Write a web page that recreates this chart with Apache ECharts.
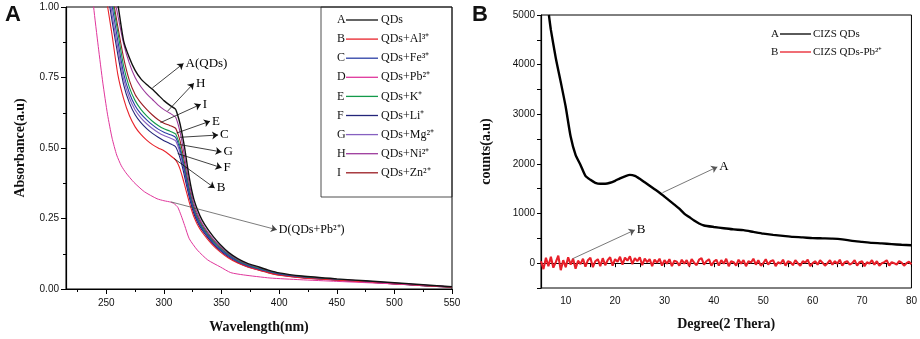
<!DOCTYPE html>
<html>
<head>
<meta charset="utf-8">
<script src="https://cdn.jsdelivr.net/npm/echarts@6/dist/echarts.min.js"></script>
<style>
  html, body { margin: 0; padding: 0; background: #fff; }
  #main { width: 920px; height: 339px; }
</style>
</head>
<body>
<div id="main"></div>
<script>
// ---- panel A : UV-vis absorbance ----
var wlA = [245, 250, 255, 260, 265, 270, 275, 280, 285, 290, 295, 300, 305, 310, 312, 314, 316, 318, 320, 322, 324, 326, 329, 333, 338, 343, 349, 356, 364, 372, 381, 390, 400, 420, 450, 475, 500, 525, 550];
var absA = [1.5, 1.30, 1.12, 1.01, 0.88, 0.82, 0.775, 0.745, 0.725, 0.708, 0.688, 0.668, 0.652, 0.638, 0.615, 0.585, 0.545, 0.50, 0.445, 0.395, 0.352, 0.318, 0.282, 0.245, 0.212, 0.185, 0.157, 0.130, 0.108, 0.092, 0.080, 0.068, 0.057, 0.046, 0.036, 0.029, 0.022, 0.015, 0.008];
var absH = [1.4, 1.25, 1.08, 0.97, 0.87, 0.80, 0.75, 0.717, 0.692, 0.672, 0.652, 0.636, 0.624, 0.61, 0.588, 0.556, 0.515, 0.468, 0.418, 0.372, 0.335, 0.302, 0.268, 0.233, 0.202, 0.176, 0.15, 0.125, 0.104, 0.089, 0.077, 0.066, 0.055, 0.044, 0.034, 0.028, 0.021, 0.014, 0.007];
var absI = [1.35, 1.2, 1.05, 0.93, 0.82, 0.74, 0.69, 0.66, 0.637, 0.617, 0.600, 0.588, 0.580, 0.570, 0.552, 0.525, 0.488, 0.445, 0.400, 0.358, 0.322, 0.292, 0.260, 0.228, 0.198, 0.172, 0.147, 0.123, 0.102, 0.087, 0.075, 0.064, 0.054, 0.043, 0.034, 0.027, 0.02, 0.013, 0.007];
var absE = [1.3, 1.18, 1.03, 0.91, 0.79, 0.715, 0.668, 0.637, 0.614, 0.595, 0.58, 0.568, 0.560, 0.550, 0.532, 0.505, 0.47, 0.43, 0.388, 0.348, 0.313, 0.284, 0.253, 0.222, 0.193, 0.168, 0.144, 0.121, 0.1, 0.085, 0.074, 0.063, 0.053, 0.042, 0.033, 0.027, 0.02, 0.013, 0.007];
var absC = [1.28, 1.15, 1.005, 0.88, 0.765, 0.695, 0.65, 0.621, 0.6, 0.582, 0.567, 0.556, 0.548, 0.538, 0.52, 0.494, 0.46, 0.42, 0.378, 0.34, 0.306, 0.278, 0.247, 0.217, 0.189, 0.164, 0.14, 0.118, 0.098, 0.083, 0.072, 0.061, 0.052, 0.041, 0.032, 0.026, 0.019, 0.013, 0.007];
var absG = [1.25, 1.12, 0.975, 0.855, 0.745, 0.678, 0.635, 0.607, 0.586, 0.569, 0.555, 0.544, 0.536, 0.526, 0.508, 0.483, 0.45, 0.412, 0.372, 0.335, 0.302, 0.274, 0.244, 0.214, 0.186, 0.162, 0.138, 0.116, 0.097, 0.082, 0.071, 0.06, 0.051, 0.041, 0.032, 0.026, 0.019, 0.012, 0.006];
var absF = [1.22, 1.08, 0.95, 0.83, 0.725, 0.66, 0.618, 0.59, 0.569, 0.552, 0.538, 0.526, 0.516, 0.505, 0.488, 0.464, 0.433, 0.397, 0.36, 0.325, 0.294, 0.267, 0.238, 0.209, 0.182, 0.158, 0.135, 0.113, 0.094, 0.08, 0.069, 0.059, 0.05, 0.04, 0.031, 0.025, 0.018, 0.012, 0.006];
var absB = [1.15, 1.03, 0.90, 0.76, 0.675, 0.615, 0.575, 0.548, 0.528, 0.512, 0.5, 0.49, 0.475, 0.458, 0.445, 0.425, 0.398, 0.368, 0.337, 0.307, 0.28, 0.256, 0.229, 0.202, 0.176, 0.153, 0.131, 0.11, 0.092, 0.079, 0.068, 0.058, 0.049, 0.039, 0.031, 0.025, 0.018, 0.012, 0.006];
// Pb2+ sample has its own wavelength points
var wlD = [235, 239, 243, 247, 251, 255, 259, 263, 267, 274, 283, 294, 300, 306, 309, 312, 315, 318, 322, 329, 338, 349, 358, 369, 392, 418, 450, 500, 550];
var absD = [1.2, 1.0, 0.86, 0.73, 0.62, 0.535, 0.475, 0.437, 0.412, 0.378, 0.345, 0.32, 0.313, 0.308, 0.302, 0.29, 0.26, 0.225, 0.178, 0.138, 0.103, 0.078, 0.058, 0.05, 0.039, 0.033, 0.027, 0.018, 0.008];

var lettersA = ['A', 'B', 'C', 'D', 'E', 'F', 'G', 'H', 'I'];
var labelsA = ['QDs', 'QDs+Al³⁺', 'QDs+Fe³⁺', 'QDs+Pb²⁺', 'QDs+K⁺', 'QDs+Li⁺', 'QDs+Mg²⁺', 'QDs+Ni²⁺', 'QDs+Zn²⁺'];
var colorsA = ['#111111', '#e8232b', '#2b3fa6', '#e0379c', '#139a4a', '#23257a', '#8660c0', '#9c3a9c', '#9a1c22'];
var valuesA = [absA, absB, absC, null, absE, absF, absG, absH, absI];

// arrows: [from x, from y, to x, to y, text]
var arrowsA = [
  [290, 0.713, 317, 0.80, 'A(QDs)'],
  [303, 0.630, 326, 0.73, 'H'],
  [297, 0.590, 332, 0.655, 'I'],
  [311, 0.553, 340, 0.595, 'E'],
  [314, 0.538, 347, 0.546, 'C'],
  [314, 0.512, 350, 0.486, 'G'],
  [312, 0.480, 350, 0.430, 'F'],
  [309, 0.462, 344, 0.358, 'B']
];
var arrowD = [306, 0.309, 398, 0.21, 'D(QDs+Pb²⁺)'];

// ---- panel B : XRD counts ----
var degA = [6.6, 7, 8, 9, 10, 11, 12, 13, 14, 15, 16, 17, 18, 19, 20, 21, 22, 23, 24, 25, 26, 27, 28, 29, 30, 31, 32, 33, 34, 35, 36, 37, 38, 40, 42, 44, 46, 48, 50, 52, 54, 56, 58, 60, 62, 64, 66, 68, 70, 72, 74, 76, 78, 80];
var countsA = [5000, 4700, 4130, 3650, 3150, 2550, 2180, 1980, 1760, 1680, 1620, 1600, 1600, 1620, 1660, 1710, 1750, 1780, 1760, 1700, 1630, 1560, 1490, 1420, 1340, 1260, 1180, 1100, 1000, 930, 860, 800, 760, 730, 705, 680, 665, 630, 595, 570, 550, 530, 520, 505, 500, 495, 480, 450, 430, 410, 400, 385, 370, 360];
// red trace, read every 0.5 degree starting at 5
var degStartB = 5, degStepB = 0.5;
var countsB = [].concat(
  [40, -120, 110, -60, 130, -90, 20, 150, -140, 60, -80, 120, -30, 90, -110, 50, -20],
  [90, -70, 60, 110, -80, 40, 80, -60, 100, -40, 60, 120, -50, 80],
  [30, 130, -30, 110, 50, 140, -20, 100, 40, 120, -40, 90, 20, 80],
  [-60, 70, 10, 90, -50, 60, -10, 80, -60, 50, 30, -50, 70, -10, 60, -60, 80, 10, -40, 70, 100, -30, 40, 80, -50, 30],
  [70, -50, 60, -10, 90, -60, 40, 20, -50, 70,
   -10, 60, -60, 40, 10, 90, -30, 60, -50, 0,
   80, -30, 40, 60, -60, 20, -10, 70, -50, 40,
   20, -40, 60, 0, -50, 40, 10, 70, -60, 0,
   40, -30, 60, 10, -50, 0, 60, -30, 40, -10,
   70, -50, 20, 40, -30, 0, 60, -50, 20, 40,
   -60, 20, -10, 60, -30, 40, -50, 0, 20, 60,
   -50, 20, 0, -30, 40, 10, -50, 0, 30, -20]
);
var lettersB = ['A', 'B'];
var labelsB = ['CIZS QDs', 'CIZS QDs-Pb²⁺'];
var colorsB = ['#000000', '#e8202a'];
var arrowsB = [
  [29.6, 1420, 40.7, 1940, 'A'],
  [11.4, 90, 24, 670, 'B']
];

var SERIF = '"Liberation Serif", "Times New Roman", serif';
var SANS = '"Liberation Sans", Arial, sans-serif';

function pairs(xs, ys) {
  return xs.map(function (x, i) { return [x, ys[i]]; });
}

var axisLineStyle = { color: '#000', width: 1.2 };
var tickLabel = { fontFamily: SANS, fontSize: 10, color: '#111' };
var nameStyle = { fontFamily: SERIF, fontSize: 14, fontWeight: 'bold', color: '#111' };

function arrowMarks(list, color, width, fontSize) {
  return {
    markLine: {
      silent: true, symbol: ['none', 'arrow'], symbolSize: 6,
      label: { show: false },
      lineStyle: { color: color, width: width, type: 'solid' },
      emphasis: { disabled: true },
      data: list.map(function (a) {
        return [{ coord: [a[0], a[1]] }, { coord: [a[2], a[3]] }];
      })
    },
    markPoint: {
      silent: true, symbol: 'circle', symbolSize: 0,
      label: { show: true, position: 'right', distance: 2, formatter: '{b}', fontFamily: SERIF, fontSize: fontSize, color: '#000' },
      data: list.map(function (a) { return { name: a[4], coord: [a[2], a[3]] }; })
    }
  };
}

var series = [];
// draw lower curves first so the black one sits on top
[8, 7, 6, 5, 4, 2, 1].forEach(function (k) {
  series.push({
    name: lettersA[k], type: 'line', xAxisIndex: 0, yAxisIndex: 0,
    data: pairs(wlA, valuesA[k]), showSymbol: false, smooth: 0.2,
    lineStyle: { color: colorsA[k], width: 1.1 }, clip: true
  });
});
series.push(Object.assign({
  name: 'D', type: 'line', xAxisIndex: 0, yAxisIndex: 0,
  data: pairs(wlD, absD), showSymbol: false, smooth: 0.2,
  lineStyle: { color: colorsA[3], width: 1 }, clip: true
}, arrowMarks([arrowD], '#444', 0.7, 12)));
series.push(Object.assign({
  name: 'A', type: 'line', xAxisIndex: 0, yAxisIndex: 0,
  data: pairs(wlA, absA), showSymbol: false, smooth: 0.2,
  lineStyle: { color: colorsA[0], width: 1.4 }, clip: true
}, arrowMarks(arrowsA, '#111', 0.8, 13)));
series.push({
  name: 'CIZS QDs-Pb', type: 'line', xAxisIndex: 1, yAxisIndex: 1,
  data: countsB.map(function (v, i) { return [degStartB + i * degStepB, v]; }),
  showSymbol: false, lineStyle: { color: colorsB[1], width: 2.1 }
});
series.push(Object.assign({
  name: 'CIZS QDs', type: 'line', xAxisIndex: 1, yAxisIndex: 1,
  data: pairs(degA, countsA), showSymbol: false, smooth: 0.2, clip: true,
  lineStyle: { color: colorsB[0], width: 2.4 }
}, arrowMarks(arrowsB, '#555', 0.8, 13)));

// legend boxes drawn as graphic
var graphic = [
  { type: 'text', x: 5, y: 4, style: { text: 'A', font: 'bold 22px ' + SANS, fill: '#111' } },
  { type: 'text', x: 472, y: 4, style: { text: 'B', font: 'bold 22px ' + SANS, fill: '#111' } },
  { type: 'rect', shape: { x: 321, y: 7, width: 131, height: 190 }, style: { fill: 'none', stroke: '#222', lineWidth: 0.8 } }
];
lettersA.forEach(function (l, i) {
  var y = 20 + i * 19.1;
  graphic.push({ type: 'text', x: 337, y: y, style: { text: l, font: '12px ' + SERIF, fill: '#111', verticalAlign: 'middle' } });
  graphic.push({ type: 'line', shape: { x1: 346, y1: y, x2: 378, y2: y }, style: { stroke: colorsA[i], lineWidth: 1.3 } });
  graphic.push({ type: 'text', x: 381, y: y, style: { text: labelsA[i], font: '12px ' + SERIF, fill: '#111', verticalAlign: 'middle' } });
});
lettersB.forEach(function (l, i) {
  var y = 34 + i * 18;
  graphic.push({ type: 'text', x: 771, y: y, style: { text: l, font: '11px ' + SERIF, fill: '#111', verticalAlign: 'middle' } });
  graphic.push({ type: 'line', shape: { x1: 780, y1: y, x2: 811, y2: y }, style: { stroke: colorsB[i], lineWidth: 1.3 } });
  graphic.push({ type: 'text', x: 813, y: y, style: { text: labelsB[i], font: '11px ' + SERIF, fill: '#111', verticalAlign: 'middle' } });
});

var chart = echarts.init(document.getElementById('main'), null, { renderer: 'canvas' });
chart.setOption({
  animation: false,
  backgroundColor: '#fff',
  grid: [
    { left: 66, top: 7, width: 386, height: 284, show: true, borderColor: '#000', borderWidth: 1 },
    { left: 541, top: 15, width: 371, height: 273, show: true, borderColor: '#000', borderWidth: 1 }
  ],
  xAxis: [
    {
      gridIndex: 0, type: 'value', min: 215, max: 550,
      name: 'Wavelength(nm)', nameLocation: 'middle', nameGap: 31, nameTextStyle: nameStyle,
      axisLine: { lineStyle: axisLineStyle },
      axisTick: { length: 5, lineStyle: { color: '#000' }, customValues: [250, 300, 350, 400, 450, 500, 550] },
      axisLabel: Object.assign({ margin: 9, customValues: [250, 300, 350, 400, 450, 500, 550] }, tickLabel),
      splitLine: { show: false }
    },
    {
      gridIndex: 1, type: 'value', min: 5, max: 80, interval: 5,
      name: 'Degree(2 Thera)', nameLocation: 'middle', nameGap: 29, nameTextStyle: nameStyle,
      axisLine: { lineStyle: axisLineStyle },
      axisTick: { length: 4, lineStyle: { color: '#000' } },
      axisLabel: Object.assign({ margin: 8, formatter: function (v) { return v % 10 === 0 ? String(v) : ''; } }, tickLabel),
      splitLine: { show: false }
    },
    {
      // minor ticks of panel A
      gridIndex: 0, type: 'value', min: 215, max: 550, position: 'bottom',
      axisLine: { show: false },
      axisTick: { length: 3, lineStyle: { color: '#000' }, customValues: [225, 275, 325, 375, 425, 475, 525] },
      axisLabel: { show: false }, splitLine: { show: false }
    }
  ],
  yAxis: [
    {
      gridIndex: 0, type: 'value', min: 0, max: 1, interval: 0.25,
      name: 'Absorbance(a.u)', nameLocation: 'middle', nameGap: 39, nameTextStyle: nameStyle,
      axisLine: { show: true, lineStyle: axisLineStyle },
      axisTick: { show: true, length: 5, lineStyle: { color: '#000' } },
      minorTick: { show: true, splitNumber: 2, length: 3, lineStyle: { color: '#000' } },
      axisLabel: Object.assign({ margin: 7, formatter: function (v) { return v.toFixed(2); } }, tickLabel),
      splitLine: { show: false }
    },
    {
      gridIndex: 1, type: 'value', min: -500, max: 5000, interval: 500,
      name: 'counts(a.u)', nameLocation: 'middle', nameGap: 48, nameTextStyle: nameStyle,
      axisLine: { show: true, lineStyle: axisLineStyle },
      axisTick: { show: true, length: 4, lineStyle: { color: '#000' } },
      axisLabel: Object.assign({ margin: 6, formatter: function (v) { return v % 1000 === 0 ? String(v) : ''; } }, tickLabel),
      splitLine: { show: false }
    }
  ],
  series: series,
  graphic: graphic
});
</script>
</body>
</html>
